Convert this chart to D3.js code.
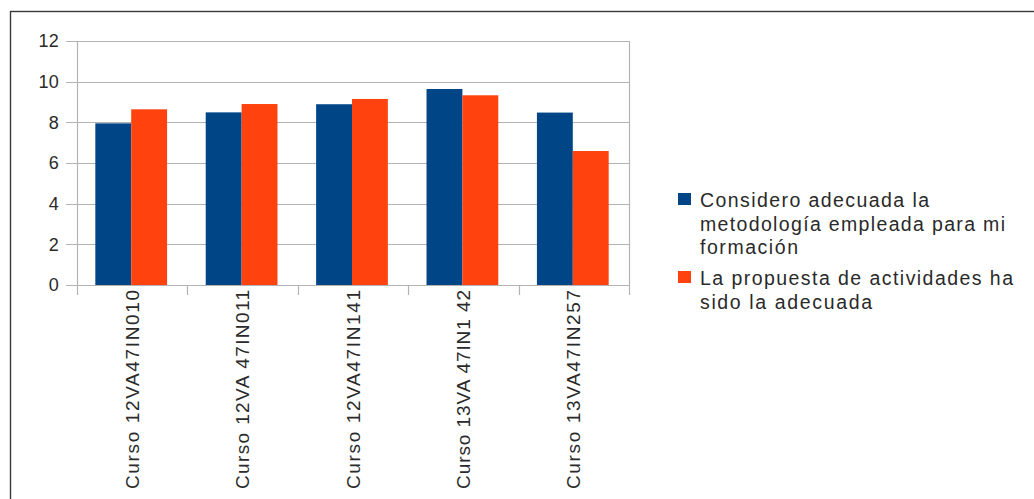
<!DOCTYPE html>
<html><head><meta charset="utf-8">
<script src="https://cdn.jsdelivr.net/npm/d3@7"></script>
<style>body{margin:0;background:#fff}svg{display:block}text{font-family:"Liberation Sans",Arial,sans-serif;fill:#2a2a2a}</style>
</head><body>
<svg id="c" width="1034" height="499"></svg>
<script>
const categories = ["Curso 12VA47IN010","Curso 12VA 47IN011","Curso 12VA47IN141","Curso 13VA 47IN1 42","Curso 13VA47IN257"];
const seriesNames = ["Considero adecuada la metodología empleada para mi formación","La propuesta de actividades ha sido la adecuada"];
const seriesA = [7.95, 8.49, 8.89, 9.64, 8.48];
const seriesB = [8.64, 8.90, 9.15, 9.33, 6.59];
const yTicks = [0,2,4,6,8,10,12];
const legendLines = [["Considero adecuada la","metodología empleada para mi","formación"],["La propuesta de actividades ha","sido la adecuada"]];
const colors = ["#004586","#ff420e"];

const legendWidths = [[229,305,98],[313,172]];
const xLabelLength = 199;

const svg = d3.select("#c");
svg.append("rect").attr("x",10.5).attr("y",11.5).attr("width",1100).attr("height",600)
  .attr("fill","none").attr("stroke","#3a3a3a").attr("stroke-width",1.4);

const L=77, R=629, T=41, B=285;
const y = d3.scaleLinear().domain([0,12]).range([B,T]);
const x0 = d3.scaleBand().domain(categories).range([L,R]).paddingInner(0.35).paddingOuter(0.175);
const x1 = d3.scaleBand().domain([0,1]).range([0,x0.bandwidth()]);
const xo = d3.scaleBand().domain(categories).range([L,R]).padding(0);

svg.append("g").selectAll("line").data(yTicks).join("line")
  .attr("x1",66).attr("x2",R).attr("y1",d=>Math.round(y(d))+0.5).attr("y2",d=>Math.round(y(d))+0.5)
  .attr("stroke","#b3b3b3").attr("stroke-width",1.2);
svg.append("g").selectAll("text").data(yTicks).join("text")
  .attr("x",59).attr("y",d=>y(d)).attr("dy","0.35em").attr("text-anchor","end")
  .attr("font-size",18).attr("letter-spacing","0.3px").text(d=>d);
svg.append("line").attr("x1",L+0.5).attr("x2",L+0.5).attr("y1",T).attr("y2",295).attr("stroke","#b3b3b3").attr("stroke-width",1.2);
svg.append("line").attr("x1",R+0.5).attr("x2",R+0.5).attr("y1",T).attr("y2",295).attr("stroke","#b3b3b3").attr("stroke-width",1.2);
svg.append("g").selectAll("line").data(categories.slice(1)).join("line")
  .attr("x1",d=>Math.round(xo(d))+0.5).attr("x2",d=>Math.round(xo(d))+0.5).attr("y1",B).attr("y2",295)
  .attr("stroke","#b3b3b3").attr("stroke-width",1.2);

const g = svg.append("g");
categories.forEach((c,i)=>{
  [seriesA[i],seriesB[i]].forEach((v,j)=>{
    g.append("rect").attr("x",x0(c)+x1(j)-1).attr("y",y(v)).attr("width",x1.bandwidth()).attr("height",B-y(v)).attr("fill",colors[j]);
  });
});

svg.append("g").selectAll("text").data(categories).join("text")
  .attr("transform",d=>`translate(${xo(d)+xo.bandwidth()/2},290) rotate(-90)`)
  .attr("text-anchor","end").attr("dy","0.35em").attr("font-size",19)
  .attr("textLength",xLabelLength).attr("lengthAdjust","spacing")
  .text(d=>d);

const lg = svg.append("g");
const starts=[207,285];
legendLines.forEach((lines,j)=>{
  lg.append("rect").attr("x",678).attr("y",starts[j]-14).attr("width",13).attr("height",12).attr("fill",colors[j]);
  lines.forEach((t,k)=>{
    lg.append("text").attr("x",700).attr("y",starts[j]+k*23.5).attr("font-size",19.5)
      .attr("textLength",legendWidths[j][k]).attr("lengthAdjust","spacing").text(t);
  });
});
</script>
</body></html>
